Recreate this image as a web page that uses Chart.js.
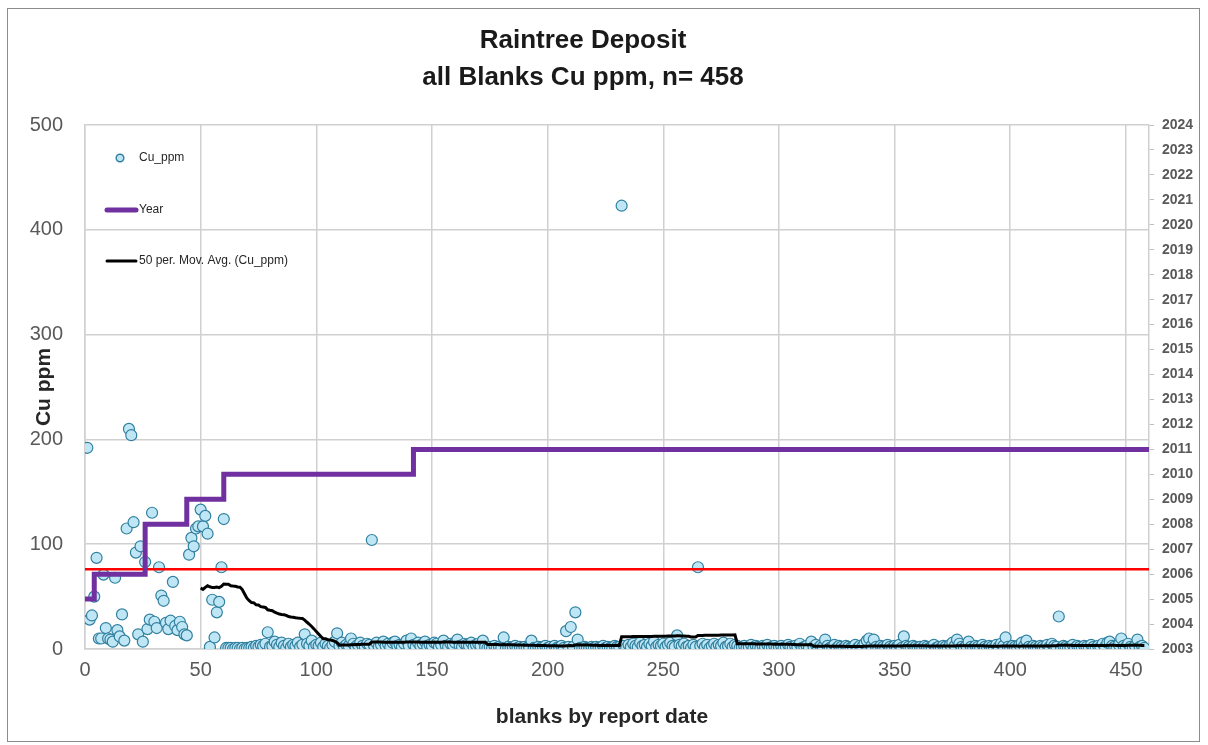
<!DOCTYPE html>
<html>
<head>
<meta charset="utf-8">
<script src="https://cdn.jsdelivr.net/npm/chart.js@4/dist/chart.umd.min.js"></script>
<style>
  html, body { margin: 0; padding: 0; background: #fff; }
  #wrap { width: 1208px; height: 745px; }
</style>
</head>
<body>
<div id="wrap"><canvas id="chart" width="1208" height="745"></canvas></div>
<script>
const titleLines = ['Raintree Deposit', 'all Blanks Cu ppm, n= 458'];
const xTitle = 'blanks by report date';
const yTitle = 'Cu ppm';
const legendNames = ['Cu_ppm', 'Year', '50 per. Mov. Avg. (Cu_ppm)'];

// Cu ppm of each blank, in report order (1..458)
const cuPpm = [
    192, 28, 32, 50, 87, 10, 10, 71, 20, 10,
    9, 7, 68, 18, 12, 33, 8, 115, 210, 204,
    121, 92, 14, 98, 7, 83, 19, 28, 130, 26,
    20, 78, 51, 46, 25, 19, 27, 64, 22, 18,
    26, 21, 14, 13, 90, 106, 98, 115, 117, 133,
    117, 127, 110, 2, 47, 11, 35, 45, 78, 124,
    1, 1, 1, 0, 1, 1, 0, 1, 0, 1,
    1, 2, 1, 3, 2, 4, 3, 5, 16, 2,
    3, 7, 4, 2, 6, 3, 1, 5, 2, 4,
    3, 6, 2, 4, 14, 5, 3, 8, 2, 4,
    3, 6, 2, 5, 3, 1, 4, 7, 15, 3,
    6, 2, 4, 3, 10, 5, 2, 4, 6, 3,
    2, 5, 4, 104, 3, 6, 2, 4, 7, 3,
    5, 2, 6, 7, 3, 4, 2, 5, 8, 3,
    10, 4, 2, 6, 3, 5, 7, 2, 4, 3,
    6, 5, 2, 4, 8, 3, 2, 5, 4, 6,
    9, 3, 2, 5, 4, 3, 6, 2, 4, 5,
    3, 8, 2, 1, 2, 1, 3, 1, 2, 1,
    11, 1, 2, 1, 2, 3, 1, 2, 1, 2,
    1, 2, 8, 1, 1, 2, 1, 2, 3, 1,
    2, 1, 3, 1, 2, 3, 1, 17, 2, 21,
    2, 35, 9, 1, 1, 2, 1, 1, 2, 1,
    2, 1, 1, 3, 1, 2, 1, 1, 3, 2,
    2, 423, 3, 1, 4, 2, 5, 3, 2, 6,
    3, 4, 2, 5, 3, 7, 2, 4, 3, 5,
    2, 4, 6, 3, 2, 13, 4, 3, 5, 2,
    3, 1, 4, 2, 78, 3, 5, 2, 4, 1,
    3, 5, 2, 4, 3, 6, 2, 3, 5, 2,
    4, 3, 1, 2, 3, 1, 2, 4, 1, 3,
    2, 1, 3, 2, 4, 1, 2, 3, 1, 2,
    3, 1, 2, 4, 2, 1, 3, 2, 5, 1,
    2, 3, 1, 7, 2, 4, 1, 3, 2, 9,
    3, 1, 2, 4, 1, 3, 2, 1, 3, 2,
    1, 2, 4, 1, 3, 2, 5, 8, 10, 3,
    9, 2, 1, 3, 2, 1, 4, 2, 1, 3,
    2, 4, 1, 12, 3, 2, 1, 3, 2, 1,
    2, 1, 3, 2, 1, 2, 4, 1, 2, 1,
    3, 2, 1, 4, 6, 3, 9, 5, 2, 1,
    3, 7, 2, 1, 3, 2, 1, 4, 2, 1,
    3, 2, 1, 4, 2, 5, 3, 11, 2, 1,
    3, 2, 1, 4, 6, 3, 8, 2, 1, 3,
    2, 1, 3, 2, 1, 4, 2, 5, 3, 2,
    31, 1, 3, 2, 1, 2, 4, 1, 3, 2,
    1, 3, 2, 1, 4, 2, 1, 3, 2, 5,
    2, 6, 7, 3, 2, 1, 4, 10, 3, 2,
    5, 2, 1, 3, 9, 2, 3, 1
];

// year of report (right axis), as steps
const yearX = [0, 4, 26, 44, 60, 142, 460];
const yearValues = [2005, 2006, 2008, 2009, 2010, 2011, 2011];

// red limit line
const limitX = [0, 460];
const limitValues = [76, 76];

const maPeriod = 50;

const NARROW = "'Liberation Sans Narrow', 'Liberation Sans', sans-serif";

function movingAverage(values, period) {
    const out = [];
    for (let i = period - 1; i < values.length; i++) {
        let sum = 0;
        for (let j = i - period + 1; j <= i; j++) sum += values[j];
        out.push({ x: i + 1, y: sum / period });
    }
    return out;
}

const decor = {
    id: 'decor',
    afterDraw(chart) {
        const ctx = chart.ctx;
        ctx.save();
        // outer frame
        ctx.strokeStyle = '#8c8c8c';
        ctx.lineWidth = 1;
        ctx.strokeRect(7.5, 8.5, 1192, 733);

        // title
        ctx.fillStyle = '#1a1a1a';
        ctx.textAlign = 'center';
        ctx.textBaseline = 'middle';
        ctx.font = 'bold 26px ' + NARROW;
        ctx.fillText(titleLines[0], 583, 41);
        ctx.fillText(titleLines[1], 583, 78);

        // x axis title
        ctx.fillStyle = '#262626';
        ctx.font = 'bold 21px ' + NARROW;
        ctx.fillText(xTitle, 602, 717);

        // legend
        ctx.textAlign = 'left';
        ctx.font = "12px 'Liberation Sans', sans-serif";
        ctx.beginPath();
        ctx.arc(120, 158, 3.8, 0, Math.PI * 2);
        ctx.fillStyle = '#bfe6f5';
        ctx.fill();
        ctx.strokeStyle = '#31809f';
        ctx.lineWidth = 1.5;
        ctx.stroke();
        ctx.fillStyle = '#262626';
        ctx.fillText(legendNames[0], 139, 158);

        ctx.lineCap = 'round';
        ctx.strokeStyle = '#7030a0';
        ctx.lineWidth = 5;
        ctx.beginPath();
        ctx.moveTo(107, 210);
        ctx.lineTo(136, 210);
        ctx.stroke();
        ctx.fillText(legendNames[1], 139, 210);

        ctx.strokeStyle = '#000000';
        ctx.lineWidth = 3;
        ctx.beginPath();
        ctx.moveTo(107, 261);
        ctx.lineTo(136, 261);
        ctx.stroke();
        ctx.fillText(legendNames[2], 139, 261);
        ctx.restore();
    }
};

const ctx = document.getElementById('chart').getContext('2d');
new Chart(ctx, {
    type: 'scatter',
    data: {
        datasets: [
            {
                label: legendNames[0],
                data: cuPpm.map((v, i) => ({ x: i + 1, y: v })),
                yAxisID: 'y',
                order: 4,
                pointRadius: 5.5,
                pointBackgroundColor: '#bfe6f5',
                pointBorderColor: '#31809f',
                pointBorderWidth: 1.2
            },
            {
                type: 'line',
                label: 'limit',
                data: limitX.map((x, i) => ({ x: x, y: limitValues[i] })),
                yAxisID: 'y',
                order: 3,
                borderColor: '#ff0000',
                borderWidth: 2.5,
                pointRadius: 0
            },
            {
                type: 'line',
                label: legendNames[1],
                data: yearX.map((x, i) => ({ x: x, y: yearValues[i] })),
                yAxisID: 'y2',
                order: 2,
                stepped: true,
                borderColor: '#7030a0',
                borderWidth: 5,
                pointRadius: 0
            },
            {
                type: 'line',
                label: legendNames[2],
                data: movingAverage(cuPpm, maPeriod),
                yAxisID: 'y',
                order: 1,
                borderColor: '#000000',
                borderWidth: 3,
                pointRadius: 0
            }
        ]
    },
    options: {
        responsive: false,
        devicePixelRatio: 1,
        animation: false,
        layout: { padding: { top: 125, left: 0, right: 0, bottom: 0 } },
        plugins: {
            legend: { display: false },
            title: { display: false },
            tooltip: { enabled: false }
        },
        scales: {
            x: {
                type: 'linear',
                min: 0,
                max: 460,
                ticks: {
                    stepSize: 50,
                    includeBounds: false,
                    padding: 9,
                    maxRotation: 0,
                    color: '#595959',
                    font: { family: NARROW, size: 20 }
                },
                grid: { color: '#d0d0d0', lineWidth: 1.5, drawTicks: false },
                border: { color: '#d0d0d0', width: 1.5 },
                afterFit: s => { s.height = 96; }
            },
            y: {
                position: 'left',
                min: 0,
                max: 500,
                ticks: {
                    stepSize: 100,
                    padding: 22,
                    color: '#595959',
                    font: { family: NARROW, size: 20 }
                },
                grid: { color: '#d0d0d0', lineWidth: 1.5, drawTicks: false },
                border: { color: '#d0d0d0', width: 1.5 },
                title: {
                    display: true,
                    text: yTitle,
                    color: '#262626',
                    font: { family: NARROW, size: 21, weight: 'bold' },
                    padding: { top: 32, bottom: 0 }
                },
                afterFit: s => { s.width = 85; }
            },
            y2: {
                position: 'right',
                min: 2003,
                max: 2024,
                ticks: {
                    stepSize: 1,
                    padding: 8,
                    color: '#595959',
                    font: { family: "'Liberation Sans', sans-serif", size: 14, weight: 'bold' },
                    callback: v => String(v)
                },
                grid: { drawOnChartArea: false, drawTicks: true, tickLength: 5, color: '#bfbfbf' },
                border: { color: '#d0d0d0', width: 1.5 },
                afterFit: s => { s.width = 59; }
            }
        }
    },
    plugins: [decor]
});
</script>
</body>
</html>
